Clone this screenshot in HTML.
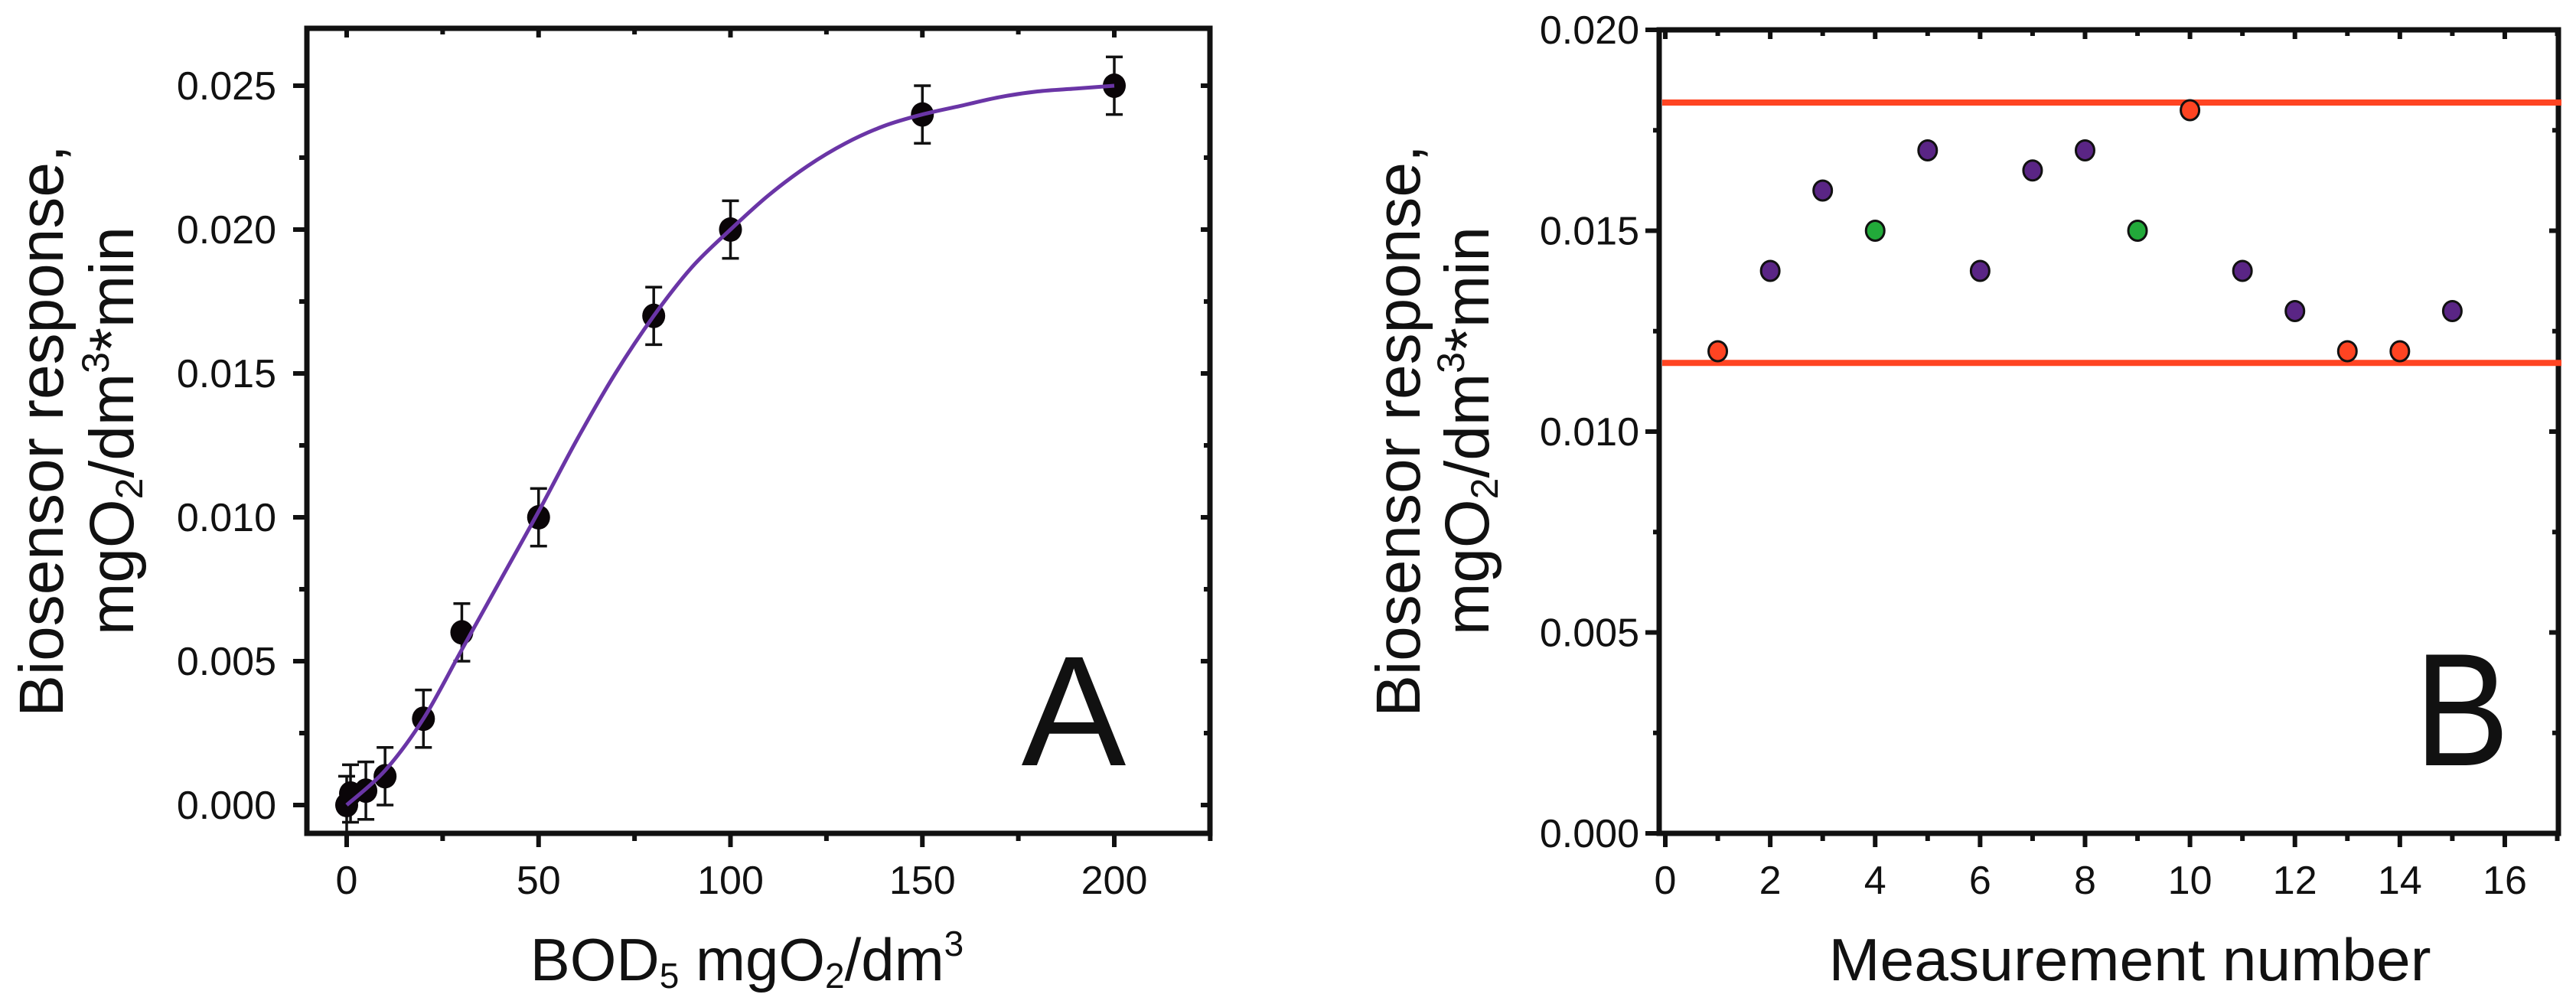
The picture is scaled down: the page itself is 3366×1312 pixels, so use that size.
<!DOCTYPE html>
<html><head><meta charset="utf-8"><style>
html,body{margin:0;padding:0;background:#fff}
svg{display:block}
text{font-family:"Liberation Sans",Arial,sans-serif;fill:#111}
</style></head><body>
<svg id="fig" width="3366" height="1312" viewBox="0 0 3366 1312" xmlns="http://www.w3.org/2000/svg">
<g id="panelA"></g>
<g id="panelB"></g>
</svg>
<script>
// Panel A data
const aX = [0, 1, 5, 10, 20, 30, 50, 80, 100, 150, 200];
const aY = [0.0000, 0.0004, 0.0005, 0.0010, 0.0030, 0.0060, 0.0100, 0.0170, 0.0200, 0.0240, 0.0250];
const aErr = [0.0010, 0.0010, 0.0010, 0.0010, 0.0010, 0.0010, 0.0010, 0.0010, 0.0010, 0.0010, 0.0010];
const fitX = [0, 10, 20, 30, 40, 50, 60, 70, 80, 90, 100, 110, 120, 130, 140, 150, 160, 170, 180, 190, 200];
const fitY = [0.0000, 0.0012, 0.0030, 0.0054, 0.0078, 0.0102, 0.0127, 0.0150, 0.0170, 0.0187, 0.0200, 0.0212, 0.0222, 0.0230, 0.0236, 0.0240, 0.0243, 0.0246, 0.0248, 0.0249, 0.0250];
const aXTicks = [0, 50, 100, 150, 200];
const aYTicks = [0, 0.005, 0.010, 0.015, 0.020, 0.025];
const aYTickLabels = ["0.000", "0.005", "0.010", "0.015", "0.020", "0.025"];
// Panel B data
const bX = [1, 2, 3, 4, 5, 6, 7, 8, 9, 10, 11, 12, 13, 14, 15];
const bY = [0.012, 0.014, 0.016, 0.015, 0.017, 0.014, 0.0165, 0.017, 0.015, 0.018, 0.014, 0.013, 0.012, 0.012, 0.013];
const bCat = ["red", "purple", "purple", "green", "purple", "purple", "purple", "purple", "green", "red", "purple", "purple", "red", "red", "purple"];
const bLimits = [0.01819, 0.01171];
const bXTicks = [0, 2, 4, 6, 8, 10, 12, 14, 16];
const bYTicks = [0, 0.005, 0.010, 0.015, 0.020];
const bYTickLabels = ["0.000", "0.005", "0.010", "0.015", "0.020"];

const NS = "http://www.w3.org/2000/svg";
function mk(parent, tag, attrs, txt) {
  const e = document.createElementNS(NS, tag);
  for (const k in attrs) e.setAttribute(k, attrs[k]);
  if (txt !== undefined) e.textContent = txt;
  parent.appendChild(e);
  return e;
}

// ---------- Panel A ----------
const gA = document.getElementById("panelA");
const ax = v => 453 + v * 5.015;
const ay = v => 1052 - v * 37600;
const A = {l: 401, r: 1581, t: 37, b: 1089};
{
  for (let v = 0; v <= 225; v += 25) {
    const major = v % 50 === 0;
    const x = ax(v);
    const t = mk(gA, "line", {x1: x, x2: x, y1: A.b, y2: A.b + (major ? 18 : 10), stroke: "#111", "stroke-width": 6});
    
    
    const t2 = mk(gA, "line", {x1: x, x2: x, y1: A.t, y2: A.t + (major ? 12 : 8), stroke: "#111", "stroke-width": 6});
    
    
  }
  for (let i = 0; i <= 10; i++) {
    const v = i * 0.0025;
    const major = i % 2 === 0;
    const y = ay(v);
    const t = mk(gA, "line", {x1: A.l - (major ? 18 : 10), x2: A.l, y1: y, y2: y, stroke: "#111", "stroke-width": 6});
    
    
    const t2 = mk(gA, "line", {x1: A.r - (major ? 12 : 8), x2: A.r, y1: y, y2: y, stroke: "#111", "stroke-width": 6});
    
    
  }
  const fr = mk(gA, "rect", {x: A.l, y: A.t, width: A.r - A.l, height: A.b - A.t, fill: "none", stroke: "#111", "stroke-width": 7});
  
  
  aXTicks.forEach(v => {
    const t = mk(gA, "text", {x: ax(v), y: 1168, "font-size": 52, "text-anchor": "middle"}, String(v));
    
    
  });
  aYTicks.forEach((v, i) => {
    const t = mk(gA, "text", {x: 361, y: ay(v) + 18, "font-size": 52, "text-anchor": "end"}, aYTickLabels[i]);
    
    
  });
  const pts = fitX.map((x, i) => [ax(x), ay(fitY[i])]);
  let d = "M" + pts[0][0] + "," + pts[0][1];
  for (let i = 0; i < pts.length - 1; i++) {
    const p0 = pts[Math.max(0, i - 1)], p1 = pts[i], p2 = pts[i + 1], p3 = pts[Math.min(pts.length - 1, i + 2)];
    const c1 = [p1[0] + (p2[0] - p0[0]) / 6, p1[1] + (p2[1] - p0[1]) / 6];
    const c2 = [p2[0] - (p3[0] - p1[0]) / 6, p2[1] - (p3[1] - p1[1]) / 6];
    d += " C" + c1[0] + "," + c1[1] + " " + c2[0] + "," + c2[1] + " " + p2[0] + "," + p2[1];
  }
  aX.forEach((x, i) => {
    const cx = ax(x), y1 = ay(aY[i] + aErr[i]), y2 = ay(aY[i] - aErr[i]);
    const g = mk(gA, "g", {stroke: "#111", "stroke-width": 3.5});
    
    
    mk(g, "line", {x1: cx, x2: cx, y1: y1, y2: y2});
    mk(g, "line", {x1: cx - 11, x2: cx + 11, y1: y1, y2: y1});
    mk(g, "line", {x1: cx - 11, x2: cx + 11, y1: y2, y2: y2});
  });
  aX.forEach((x, i) => {
    const c = mk(gA, "ellipse", {cx: ax(x), cy: ay(aY[i]), rx: 15, ry: 16, fill: "#0a0508"});
    
    
  });
  const fit = mk(gA, "path", {d: d, fill: "none", stroke: "#6a35a6", "stroke-width": 5});
  
  

  const yl = mk(gA, "text", {transform: "translate(82,563) rotate(-90)", "font-size": 82, "text-anchor": "middle"}, "Biosensor response,");
  
  
  const yl2 = mk(gA, "text", {transform: "translate(174,563) rotate(-90)", "font-size": 82, "text-anchor": "middle"});
  
  
  yl2.innerHTML = 'mgO<tspan font-size="50" dy="12">2</tspan><tspan dy="-12">/dm</tspan><tspan font-size="50" dy="-32">3</tspan><tspan dy="32">*min</tspan>';
  const xl = mk(gA, "text", {x: 976, y: 1281, "font-size": 78, "text-anchor": "middle"});
  
  
  xl.innerHTML = 'BOD<tspan font-size="46" dy="10">5</tspan><tspan dy="-10"> mgO</tspan><tspan font-size="46" dy="10">2</tspan><tspan dy="-10">/dm</tspan><tspan font-size="46" dy="-32">3</tspan>';
  const lab = mk(gA, "text", {x: 1403, y: 1000, "font-size": 205, "text-anchor": "middle"}, "A");
  
  
}

// ---------- Panel B ----------
const gB = document.getElementById("panelB");
const bx = v => 2176 + v * 68.56;
const by = v => 1089 - v * 52500;
const B = {l: 2168, r: 3343, t: 39, b: 1089};
{
  for (let v = 0; v <= 17; v++) {
    const major = v % 2 === 0;
    const x = bx(v);
    const t = mk(gB, "line", {x1: x, x2: x, y1: B.b, y2: B.b + (major ? 18 : 10), stroke: "#111", "stroke-width": 6});
    
    
    const t2 = mk(gB, "line", {x1: x, x2: x, y1: B.t, y2: B.t + (major ? 12 : 8), stroke: "#111", "stroke-width": 6});
    
    
  }
  for (let i = 0; i <= 8; i++) {
    const v = i * 0.0025;
    const major = i % 2 === 0;
    const y = by(v);
    const t = mk(gB, "line", {x1: B.l - (major ? 18 : 8), x2: B.l, y1: y, y2: y, stroke: "#111", "stroke-width": 6});
    
    
    const t2 = mk(gB, "line", {x1: B.r - (major ? 12 : 8), x2: B.r, y1: y, y2: y, stroke: "#111", "stroke-width": 6});
    
    
  }
  const fr = mk(gB, "rect", {x: B.l, y: B.t, width: B.r - B.l, height: B.b - B.t, fill: "none", stroke: "#111", "stroke-width": 7});
  
  
  bXTicks.forEach(v => {
    const t = mk(gB, "text", {x: bx(v), y: 1168, "font-size": 52, "text-anchor": "middle"}, String(v));
    
    
  });
  bYTicks.forEach((v, i) => {
    const t = mk(gB, "text", {x: 2142, y: by(v) + 18, "font-size": 52, "text-anchor": "end"}, bYTickLabels[i]);
    
    
  });
  bLimits.forEach(v => {
    const l = mk(gB, "line", {x1: B.l + 4, x2: B.r + 4, y1: by(v), y2: by(v), stroke: "#ff4422", "stroke-width": 8});
    
    
  });
  const colors = {red: "#ff4422", purple: "#5a2585", green: "#22aa3a"};
  bX.forEach((x, i) => {
    const c = mk(gB, "ellipse", {cx: bx(x), cy: by(bY[i]), rx: 12, ry: 13, fill: colors[bCat[i]], stroke: "#111", "stroke-width": 3});
    
    
  });
  const yl = mk(gB, "text", {transform: "translate(1855,563) rotate(-90)", "font-size": 82, "text-anchor": "middle"}, "Biosensor response,");
  
  
  const yl2 = mk(gB, "text", {transform: "translate(1945,563) rotate(-90)", "font-size": 82, "text-anchor": "middle"});
  
  
  yl2.innerHTML = 'mgO<tspan font-size="50" dy="12">2</tspan><tspan dy="-12">/dm</tspan><tspan font-size="50" dy="-32">3</tspan><tspan dy="32">*min</tspan>';
  const xl = mk(gB, "text", {x: 2783, y: 1281, "font-size": 78, "text-anchor": "middle", textLength: 787, lengthAdjust: "spacingAndGlyphs"}, "Measurement number");
  
  
  const lab = mk(gB, "text", {x: 3217, y: 1000, "font-size": 210, "text-anchor": "middle", textLength: 124, lengthAdjust: "spacingAndGlyphs"}, "B");
  
  
}
</script>
</body></html>
